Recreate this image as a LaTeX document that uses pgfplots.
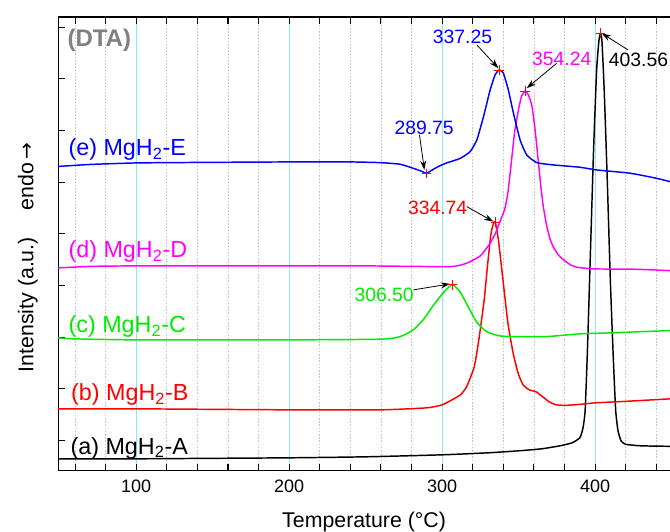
\documentclass[border=0pt]{standalone}
\usepackage{pgfplots}
\pgfplotsset{compat=1.18}
\usepackage{fontspec}
\setmainfont{Liberation Sans}
\newfontfamily\symfont{DejaVu Sans}
\usetikzlibrary{arrows.meta}
\newcommand{\fs}[1]{\fontsize{#1}{#1}\selectfont}
\definecolor{mygreen}{RGB}{0,235,0}
\definecolor{mymag}{RGB}{255,0,255}
\definecolor{gridcyan}{RGB}{140,235,240}
\begin{document}
\begin{tikzpicture}
\begin{axis}[name=ax, scale only axis, width=459pt, height=340.5pt,
  xmin=49, xmax=449, ymin=0, ymax=454,
  axis x line*=box, axis y line*=left,
  xtick={100,200,300,400},
  minor xtick={60,80,120,140,160,180,220,240,260,280,320,340,360,380,420,440},
  xtick pos=both,
  ytick={30.3,82,133.7,185.4,237.1,288.8,340.5,392.2,443.9}, yticklabels={},
  tick align=inside, major tick length=5pt, minor tick length=5pt,
  tick style={black, line width=0.8pt},
  axis line style={line width=1pt},
  xmajorgrids, xminorgrids,
  major grid style={gridcyan, line width=0.6pt},
  minor grid style={gray!45, dash pattern=on 1.2pt off 1.2pt, line width=0.5pt},
  /pgf/number format/assume math mode=true,
  xticklabel style={font=\fs{13.5}, yshift=-3.4pt},
  xlabel={Temperature (°C)},
  ylabel={Intensity (a.u.)\hspace{20pt}endo\,{\symfont\fs{15}→}},
  every axis y label/.style={at={(axis description cs:-0.0495,0.47)}, rotate=90, anchor=center, font=\fs{16}},
  every axis x label/.style={at={(axis description cs:0.5,-0.112)}, anchor=center, font=\fs{16}},
]
% (a) black
\addplot[black, line width=1.1pt, smooth, tension=0.3] coordinates {
(49,12) (100,12) (150,12.5) (200,13) (250,14) (300,16) (330,18) (350,20) (365,22) (377,25) (385,28) (390,33) (392,42)
(393.5,60) (395,120) (397,220) (399,320) (401,400) (402.5,430) (403.56,438) (404.5,430) (406,380) (408,290)
(410,190) (412,110) (413.5,60) (415,40) (417,30) (420,26.5) (430,25) (449,24.5)};
% (b) red
\addplot[red, line width=1.1pt, smooth, tension=0.3] coordinates {
(49,62) (100,62) (150,61.5) (200,61) (260,61) (290,63) (300,66) (306.5,71) (312,76) (316,84) (321,104) (324,131)
(327.5,171) (329.6,204) (331.8,236) (333.5,247) (334.74,249) (336.8,231) (340,188) (343,148) (346.4,118) (349.6,98)
(352.9,86) (357,81) (361.5,79) (365.8,74) (370,69) (374.6,66) (381,65.5) (390,66.5) (400,68) (420,69.5) (449,72)};
% (c) green
\addplot[mygreen, line width=1.1pt, smooth, tension=0.4] coordinates {
(49,133) (60,132) (100,131) (200,131) (259.5,131.7) (272.5,134.3) (281,141) (287.6,151) (294,165) (300.7,178)
(306.5,186) (311.6,179.3) (317,164.3) (322.4,149.3) (329,139.3) (337.7,135) (346.4,134.3) (368,134.3) (390,137)
(410,138) (449,140.3)};
% (d) magenta
\addplot[mymag, line width=1.1pt, smooth, tension=0.3] coordinates {
(49,203) (70,204.5) (100,205) (200,205) (250,205) (305,204.3) (316,207.7) (325,215) (331.4,227.7) (335,238)
(338,250) (341,262) (343,278) (345,305) (347.5,340) (350,362) (352,375) (354.24,380) (356.4,376) (358.6,366)
(360.8,341) (363,308) (364.5,285) (366.2,264) (368.4,245) (370.5,232) (372.7,224) (376,216) (379.4,211) (384,206)
(388,203.7) (398.8,202) (425,201.7) (449,200.3)};
% (e) blue
\addplot[blue, line width=1.1pt, smooth, tension=0.3] coordinates {
(49,304.5) (70,306.5) (100,308) (140,308.5) (200,309) (240,309) (259.5,308.3) (272.5,306.7) (281,302.7) (286,300)
(289.75,297.7) (293,300.5) (297.6,304.5) (303,308) (311.8,312.5) (318.3,319.3) (322.7,331) (327,354) (331.4,381)
(334.6,396) (337.25,401) (340,398) (343.3,381) (346.6,358) (351,331) (355.3,316) (361.9,308.3) (372.7,306)
(390,303.7) (401,301) (423,297.7) (440,292.7) (449,289.3)};
% peak markers
\addplot[only marks, mark=+, red, mark size=3.5pt, mark options={line width=0.6pt}] coordinates {
(337.25,401) (289.75,297.7) (354.24,380) (403.56,438) (334.74,249) (306.50,186)};
% annotations
\node[blue, font=\fs{14.5}, inner sep=0] at (axis cs:313.3,434.3) {337.25};
\node[mymag, font=\fs{14.5}, inner sep=0] at (axis cs:378.2,411.7) {354.24};
\node[black, font=\fs{14.5}, inner sep=0] at (axis cs:428.4,411) {403.56};
\node[blue, font=\fs{14.5}, inner sep=0] at (axis cs:288.2,343) {289.75};
\node[red, font=\fs{14.5}, inner sep=0] at (axis cs:297.1,262.7) {334.74};
\node[mygreen, font=\fs{14.5}, inner sep=0] at (axis cs:262.1,176) {306.50};
\draw[-{Stealth[length=7pt,width=4.5pt]}, line width=0.6pt] (axis cs:322.7,426) -- (axis cs:336.8,402.7);
\draw[-{Stealth[length=7pt,width=4.5pt]}, line width=0.6pt] (axis cs:374.9,407.7) -- (axis cs:355.3,382.7);
\draw[-{Stealth[length=7pt,width=4.5pt]}, line width=0.6pt] (axis cs:421.6,421) -- (axis cs:404.4,437.7);
\draw[-{Stealth[length=7pt,width=4.5pt]}, line width=0.6pt] (axis cs:285.2,336) -- (axis cs:288.4,301);
\draw[-{Stealth[length=7pt,width=4.5pt]}, line width=0.6pt] (axis cs:316.1,264.3) -- (axis cs:333.5,249.3);
\draw[-{Stealth[length=7pt,width=4.5pt]}, line width=0.6pt] (axis cs:281.2,181) -- (axis cs:305.2,187);
% curve labels
\node[anchor=west, inner sep=0, blue, font=\fs{17.5}] at (axis cs:55.6,321) {(e) MgH\textsubscript{2}-E};
\node[anchor=west, inner sep=0, mymag, font=\fs{17.5}] at (axis cs:55.6,219.3) {(d) MgH\textsubscript{2}-D};
\node[anchor=west, inner sep=0, mygreen, font=\fs{17.5}] at (axis cs:55.6,144.3) {(c) MgH\textsubscript{2}-C};
\node[anchor=west, inner sep=0, red, font=\fs{17.5}] at (axis cs:57.3,76) {(b) MgH\textsubscript{2}-B};
\node[anchor=west, inner sep=0, black, font=\fs{17.5}] at (axis cs:56.9,22.7) {(a) MgH\textsubscript{2}-A};
\node[anchor=west, inner sep=0, gray, font=\fs{18}\bfseries] at (axis cs:54.9,431) {(DTA)};
\end{axis}
\pgfresetboundingbox
\path[use as bounding box] ([xshift=-43.7pt,yshift=-45.75pt]ax.south west) rectangle ([yshift=12.75pt]ax.north east);
\end{tikzpicture}
\end{document}
